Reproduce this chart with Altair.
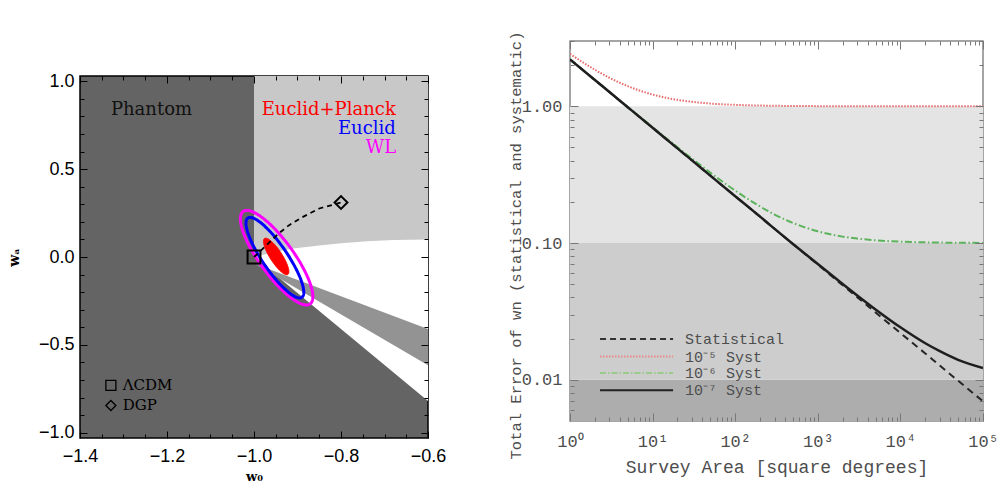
import altair as alt
import numpy as np
import pandas as pd

# ======================= LEFT PANEL : w0 - wa plane =======================
W0_DOMAIN = [-1.4, -0.6]
WA_DOMAIN = [-1.03, 1.03]
w0_major = [-1.4, -1.2, -1.0, -0.8, -0.6]
w0_minor = [-1.35, -1.3, -1.25, -1.15, -1.1, -1.05, -0.95, -0.9, -0.85, -0.75, -0.7, -0.65]
wa_major = [-1.0, -0.5, 0.0, 0.5, 1.0]
wa_minor = [-0.9, -0.8, -0.7, -0.6, -0.4, -0.3, -0.2, -0.1, 0.1, 0.2, 0.3, 0.4, 0.6, 0.7, 0.8, 0.9]

# white (non-phantom) region, above the lower boundary line
white_w0 = [-1.0, -0.6]
white_lo = [0.0, -0.82]
# light grey region, above the curved boundary
grey_w0 = [-1.0, -0.95, -0.91, -0.85, -0.8, -0.74, -0.68, -0.6]
grey_lo = [0.0, 0.03, 0.048, 0.065, 0.078, 0.09, 0.097, 0.10]
# medium grey wedge
band_w0 = [-1.0, -0.6]
band_hi = [-0.037, -0.41]
band_lo = [-0.037, -0.616]

# Fisher ellipses: centre, semi-major vector, semi-minor vector (data units)
ell_names = ["WL", "Euclid", "Euclid+Planck"]
ell_centre = [(-0.948, -0.004), (-0.952, -0.004), (-0.949, 0.003)]
ell_major = [(0.0770, -0.2632), (0.0621, -0.2258), (0.0268, -0.1024)]
ell_minor = [(0.0317, 0.0569), (0.0237, 0.0401), (0.0116, 0.0187)]

# DGP trajectory
dgp_w0 = [-1.0, -0.97, -0.945, -0.92, -0.89, -0.85, -0.80]
dgp_wa = [0.0, 0.07, 0.13, 0.18, 0.225, 0.276, 0.31]
model_names = ["ΛCDM", "DGP"]
model_w0 = [-1.0, -0.8]
model_wa = [0.0, 0.31]

# annotations
ann_text = ["Phantom", "Euclid+Planck", "Euclid", "WL"]
ann_w0 = [-1.329, -0.674, -0.674, -0.673]
ann_wa = [0.836, 0.836, 0.728, 0.618]
ann_col = ["#111111", "#ff0000", "#0000ff", "#ff00ff"]
key_names = ["ΛCDM", "DGP"]
key_w0 = [-1.329, -1.329]
key_text_w0 = [-1.302, -1.302]
key_wa = [-0.73, -0.845]

# ======================= RIGHT PANEL : error vs survey area =======================
AREA_DOMAIN = [1, 100000]
ERR_DOMAIN = [0.005, 3.0]
area = [1, 2, 3, 5, 10, 20, 30, 50, 100, 200, 300, 500, 1000, 2000, 3000, 5000,
        10000, 20000, 30000, 50000, 100000]
err_stat = [2.2, 1.556, 1.27, 0.984, 0.696, 0.492, 0.402, 0.311, 0.22, 0.156, 0.127, 0.0984,
            0.0696, 0.0492, 0.0402, 0.0311, 0.022, 0.0156, 0.0127, 0.00984, 0.00696]
err_s5 = [2.417, 1.849, 1.616, 1.403, 1.218, 1.114, 1.078, 1.047, 1.024, 1.012, 1.008, 1.005,
          1.002, 1.001, 1.001, 1.0, 1.0, 1.0, 1.0, 1.0, 1.0]
err_s6 = [2.202, 1.559, 1.274, 0.989, 0.703, 0.502, 0.414, 0.327, 0.2417, 0.185, 0.1616, 0.1403,
          0.1218, 0.1114, 0.1078, 0.1047, 0.1024, 0.1012, 0.1008, 0.1005, 0.1002]
err_s7 = [2.2, 1.556, 1.27, 0.984, 0.696, 0.492, 0.402, 0.311, 0.22, 0.156, 0.127, 0.0985,
          0.0703, 0.0502, 0.0414, 0.0327, 0.0242, 0.0185, 0.0162, 0.0140, 0.0122]
band_lo_r = [0.005, 0.01, 0.1]
band_hi_r = [0.01, 0.1, 1.0]
band_fill_r = ["#adadad", "#cdcdcd", "#e4e4e4"]
area_major = [1, 10, 100, 1000, 10000, 100000]
area_minor = [k * 10 ** d for d in range(5) for k in range(2, 10)]
err_major = [0.01, 0.1, 1.0]
err_minor = [0.006, 0.007, 0.008, 0.009] + [k / 100 for k in range(2, 10)] + \
            [k / 10 for k in range(2, 10)] + [2.0, 3.0]
legend_labels = ["Statistical", "10⁻⁵ Syst", "10⁻⁶ Syst", "10⁻⁷ Syst"]
legend_y = [0.0199, 0.0148, 0.0112, 0.0084]

MONO = "Liberation Mono"
GREY_TXT = "#4d4d4d"


def tick_axis(orient, values, size, color):
    return alt.Axis(orient=orient, values=values, ticks=True, tickSize=size, tickWidth=1,
                    tickColor=color, offset=-size, labels=False, domain=False, grid=False,
                    title=None, zindex=3)


# ---------------- left panel construction ----------------
def LX(axis, field="w0"):
    return alt.X(field, type="quantitative",
                 scale=alt.Scale(domain=W0_DOMAIN, nice=False, zero=False), axis=axis)


def LY(field, axis):
    return alt.Y(field, type="quantitative",
                 scale=alt.Scale(domain=WA_DOMAIN, nice=False, zero=False), axis=axis)


lx_lab = alt.Axis(orient="bottom", values=w0_major, format=".1f", ticks=False, tickSize=0,
                  domain=False, grid=False, labelFlush=False,
                  labelFont="Liberation Sans", labelFontSize=18,
                  labelColor="black", labelPadding=9, title="w₀", titleFont="DejaVu Serif",
                  titleFontSize=13, titleFontWeight="bold", titleColor="black", titlePadding=5)
ly_lab = alt.Axis(orient="left", values=wa_major, format=".1f", ticks=False, tickSize=0,
                  domain=False, grid=False, labelFlush=False,
                  labelFont="Liberation Sans", labelFontSize=18,
                  labelColor="black", labelPadding=6, title="wₐ", titleFont="DejaVu Serif",
                  titleFontSize=14, titleFontWeight="bold", titleColor="black", titlePadding=17)

df_white = pd.DataFrame({"w0": white_w0, "lo": white_lo, "hi": [WA_DOMAIN[1]] * 2})
df_grey = pd.DataFrame({"w0": grey_w0, "lo": grey_lo, "hi": [WA_DOMAIN[1]] * len(grey_w0)})
df_band = pd.DataFrame({"w0": band_w0, "lo": band_lo, "hi": band_hi})

l_white = alt.Chart(df_white).mark_area(color="white", clip=True).encode(
    x=LX(lx_lab), y=LY("lo", ly_lab), y2="hi")
l_grey = alt.Chart(df_grey).mark_area(color="#c8c8c8", clip=True).encode(
    x=LX(tick_axis("bottom", w0_major, 7, "black")),
    y=LY("lo", tick_axis("left", wa_major, 7, "black")), y2="hi")
l_band = alt.Chart(df_band).mark_area(color="#939393", clip=True).encode(
    x=LX(tick_axis("top", w0_major, 7, "black")),
    y=LY("lo", tick_axis("right", wa_major, 7, "black")), y2="hi")

t_par = np.linspace(0, 2 * np.pi, 145)


def ellipse_df(i):
    cx, cy = ell_centre[i]
    mx, my = ell_major[i]
    nx, ny = ell_minor[i]
    return pd.DataFrame({"w0": cx + mx * np.cos(t_par) + nx * np.sin(t_par),
                         "wa": cy + my * np.cos(t_par) + ny * np.sin(t_par),
                         "t": np.arange(len(t_par))})


l_wl = alt.Chart(ellipse_df(0)).mark_line(color="#ff00ff", strokeWidth=3, clip=True).encode(
    x=LX(tick_axis("bottom", w0_minor, 4, "black")),
    y=LY("wa", tick_axis("left", wa_minor, 4, "black")), order="t:Q")
l_eu = alt.Chart(ellipse_df(1)).mark_line(color="#0000ff", strokeWidth=3, clip=True).encode(
    x=LX(tick_axis("top", w0_minor, 4, "black")),
    y=LY("wa", tick_axis("right", wa_minor, 4, "black")), order="t:Q")
l_ep = alt.Chart(ellipse_df(2)).mark_line(color="#ff0000", fill="#ff0000", strokeWidth=1,
                                          clip=True).encode(
    x=LX(None), y=LY("wa", None), order="t:Q")

df_dgp = pd.DataFrame({"w0": dgp_w0, "wa": dgp_wa, "t": range(len(dgp_w0))})
l_dgp = alt.Chart(df_dgp).mark_line(color="black", strokeDash=[5, 4], strokeWidth=1.8).encode(
    x=LX(None), y=LY("wa", None), order="t:Q")

df_models = pd.DataFrame({"w0": model_w0, "wa": model_wa, "name": model_names})
l_models = alt.Chart(df_models).mark_point(filled=False, color="black", strokeWidth=2,
                                           size=165, opacity=1).encode(
    x=LX(None), y=LY("wa", None),
    shape=alt.Shape("name:N", scale=alt.Scale(domain=model_names, range=["square", "diamond"]),
                    legend=None))

df_ann = pd.DataFrame({"w0": ann_w0, "wa": ann_wa, "text": ann_text, "col": ann_col})
l_ann_left = alt.Chart(df_ann.iloc[[0]]).mark_text(
    font="DejaVu Serif", fontSize=18, align="left", baseline="middle").encode(
    x=LX(None), y=LY("wa", None), text="text:N", color=alt.Color("col:N", scale=None))
l_ann_right = alt.Chart(df_ann.iloc[1:]).mark_text(
    font="DejaVu Serif", fontSize=18, align="right", baseline="middle").encode(
    x=LX(None), y=LY("wa", None), text="text:N", color=alt.Color("col:N", scale=None))

df_key = pd.DataFrame({"w0": key_w0, "tw0": key_text_w0, "wa": key_wa, "name": key_names})
l_key_sym = alt.Chart(df_key).mark_point(filled=False, color="black", strokeWidth=1.3,
                                         size=100, opacity=1).encode(
    x=LX(None), y=LY("wa", None),
    shape=alt.Shape("name:N", scale=alt.Scale(domain=key_names, range=["square", "diamond"]),
                    legend=None))
l_key_txt = alt.Chart(df_key).mark_text(font="DejaVu Serif", fontSize=15, align="left",
                                        baseline="middle", color="black").encode(
    x=LX(None, "tw0"), y=LY("wa", None), text="name:N")

left = alt.layer(l_white, l_grey, l_band, l_wl, l_eu, l_ep, l_dgp, l_models,
                 l_ann_left, l_ann_right, l_key_sym, l_key_txt).resolve_axis(
    x="independent", y="independent").properties(
    width=348, height=362,
    view=alt.ViewBackground(fill="#646464", stroke="black", strokeWidth=1.5))

spacer = alt.Chart(pd.DataFrame({"v": [0]})).mark_point(opacity=0, size=1).encode(
    x=alt.value(0), y=alt.value(0)).properties(
    width=340, height=29, view=alt.ViewBackground(stroke="transparent"))

# ---------------- right panel construction ----------------
def RX(axis, field="area"):
    return alt.X(field, type="quantitative",
                 scale=alt.Scale(type="log", domain=AREA_DOMAIN, nice=False), axis=axis)


def RY(field, axis):
    return alt.Y(field, type="quantitative",
                 scale=alt.Scale(type="log", domain=ERR_DOMAIN, nice=False), axis=axis)


rx_lab = alt.Axis(orient="bottom", values=area_major, ticks=False, tickSize=0, domain=False,
                  grid=False, labelFlush=False,
                  labelExpr="'10' + ['⁰','¹','²','³','⁴','⁵'][round(log(datum.value)/LN10)]",
                  labelFont=MONO, labelFontSize=17, labelColor=GREY_TXT, labelPadding=12,
                  title="Survey Area [square degrees]", titleFont=MONO, titleFontSize=18,
                  titleFontWeight="normal", titleColor=GREY_TXT, titlePadding=9)
ry_lab = alt.Axis(orient="left", values=err_major, format=".2f", ticks=False, tickSize=0,
                  domain=False, grid=False, labelFlush=False, labelFont=MONO, labelFontSize=17,
                  labelColor=GREY_TXT, labelPadding=8,
                  title="Total Error of wn (statistical and systematic)", titleFont=MONO,
                  titleFontSize=15.5, titleFontWeight="normal", titleColor=GREY_TXT,
                  titleX=-47, titleY=204)

df_rband = pd.DataFrame({"x0": [AREA_DOMAIN[0]] * 3, "x1": [AREA_DOMAIN[1]] * 3,
                         "lo": band_lo_r, "hi": band_hi_r, "fill": band_fill_r})
r_band = alt.Chart(df_rband).mark_rect(clip=True).encode(
    x=RX(tick_axis("top", area_minor, 4, "#777777"), "x0"), x2="x1",
    y=RY("lo", tick_axis("right", err_minor, 4, "#777777")), y2="hi",
    fill=alt.Fill("fill:N", scale=None))


def series_df(vals):
    return pd.DataFrame({"area": area, "err": vals})


r_stat = alt.Chart(series_df(err_stat)).mark_line(
    color="#262626", strokeDash=[7, 5], strokeWidth=2, clip=True, interpolate="monotone").encode(
    x=RX(rx_lab), y=RY("err", ry_lab))
r_s5 = alt.Chart(series_df(err_s5)).mark_line(
    color="#e56a6a", strokeDash=[1.5, 1.5], strokeWidth=2, clip=True, interpolate="monotone").encode(
    x=RX(tick_axis("bottom", area_major, 8, "#777777")),
    y=RY("err", tick_axis("left", err_major, 8, "#777777")))
r_s6 = alt.Chart(series_df(err_s6)).mark_line(
    color="#5cb35c", strokeDash=[7, 2.5, 1.5, 2.5], strokeWidth=2, clip=True,
    interpolate="monotone").encode(
    x=RX(tick_axis("top", area_major, 8, "#777777")),
    y=RY("err", tick_axis("right", err_major, 8, "#777777")))
r_s7 = alt.Chart(series_df(err_s7)).mark_line(
    color="#1e1e1e", strokeWidth=2.5, clip=True, interpolate="monotone").encode(
    x=RX(tick_axis("bottom", area_minor, 4, "#777777")),
    y=RY("err", tick_axis("left", err_minor, 4, "#777777")))

df_leg = pd.DataFrame({"label": legend_labels, "y": legend_y})
r_leg_line = alt.Chart(df_leg).mark_rule().encode(
    x=alt.X(datum=2.31, scale=alt.Scale(type="log", domain=AREA_DOMAIN, nice=False), axis=None),
    x2=alt.X2(datum=17.7),
    y=RY("y", None),
    color=alt.Color("label:N", scale=alt.Scale(domain=legend_labels,
                                               range=["#333333", "#e88a8a", "#9acb8a", "#222222"]),
                    legend=None),
    strokeDash=alt.StrokeDash("label:N", scale=alt.Scale(
        domain=legend_labels, range=[[6, 4], [1.5, 1.5], [6, 2, 1.5, 2], [1, 0]]), legend=None),
    strokeWidth=alt.StrokeWidth("label:N", scale=alt.Scale(domain=legend_labels,
                                                           range=[2, 2, 2, 2.2]), legend=None))
r_leg_txt = alt.Chart(df_leg).mark_text(font=MONO, fontSize=15, align="left", baseline="middle",
                                        color=GREY_TXT).encode(
    x=alt.X(datum=24.7, scale=alt.Scale(type="log", domain=AREA_DOMAIN, nice=False), axis=None),
    y=RY("y", None), text="label:N")

right = alt.layer(r_band, r_stat, r_s5, r_s6, r_s7, r_leg_line, r_leg_txt).resolve_axis(
    x="independent", y="independent").properties(
    width=413, height=380,
    view=alt.ViewBackground(fill="white", stroke="#888888", strokeWidth=1.5))

chart = alt.hconcat(alt.vconcat(spacer, left, spacing=0), right, spacing=60).properties(
    padding={"left": 6, "top": 30, "right": 0, "bottom": 0}
).configure(background="white")

chart.save("out.html", embed_options={"renderer": "svg", "actions": False})
